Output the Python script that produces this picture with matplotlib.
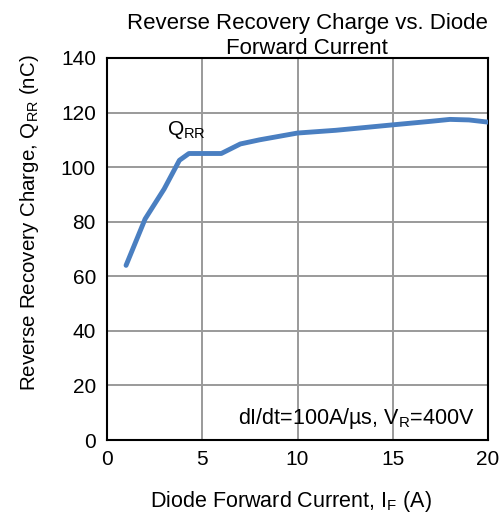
import matplotlib
matplotlib.use("Agg")
import matplotlib.pyplot as plt

current_a = [1.0, 1.5, 2.0, 3.0, 3.8, 4.3, 5.0, 6.0, 7.0, 8.0, 10.0, 12.0, 15.0, 17.0, 18.0, 19.0, 20.0]
qrr_nc = [64.0, 72.5, 81.0, 92.0, 102.5, 105.0, 105.0, 105.0, 108.5, 110.0, 112.5, 113.5, 115.5, 116.8, 117.5, 117.3, 116.5]

x_ticks = [0, 5, 10, 15, 20]
y_ticks = [0, 20, 40, 60, 80, 100, 120, 140]

plt.rcParams["font.family"] = ["Liberation Sans", "DejaVu Sans"]
plt.rcParams["mathtext.default"] = "regular"

fig = plt.figure(figsize=(5.04, 5.2), dpi=100)
ax = fig.add_axes([107 / 504, 80 / 520, 381 / 504, 382 / 520])

ax.plot(current_a, qrr_nc, color="#4a7fc1", lw=3.5, solid_capstyle="round",
        solid_joinstyle="round", zorder=3)

ax.set_xlim(0, 20)
ax.set_ylim(0, 140)
ax.set_xticks(x_ticks)
ax.set_yticks(y_ticks)
ax.tick_params(length=0, labelsize=15, colors="black")
ax.tick_params(axis="x", pad=7)
ax.tick_params(axis="y", pad=8)
ax.grid(True, color="#9a9a9a", lw=1.4)
ax.set_axisbelow(True)
for s in ax.spines.values():
    s.set_linewidth(1.5)
    s.set_color("black")

fig.text(291 / 504, 1 - 501 / 520, "Diode Forward Current, I$_{F}$ (A)",
         fontsize=15.5, ha="center", va="center")
fig.text(30 / 504, 1 - 223 / 520, "Reverse Recovery Charge, Q$_{RR}$ (nC)",
         fontsize=14.8, ha="center", va="center", rotation=90)

ax.text(4.15, 113.5, "Q$_{RR}$", fontsize=15, ha="center", va="center")
ax.text(19.3, 8, "dI/dt=100A/\u00b5s, V$_{R}$=400V", fontsize=15.5, ha="right", va="center")

fig.text(307 / 504, 1 - 36 / 520, "Reverse Recovery Charge vs. Diode\nForward Current",
         fontsize=16, ha="center", va="center", linespacing=1.25)

fig.savefig("out.png", dpi=100)
